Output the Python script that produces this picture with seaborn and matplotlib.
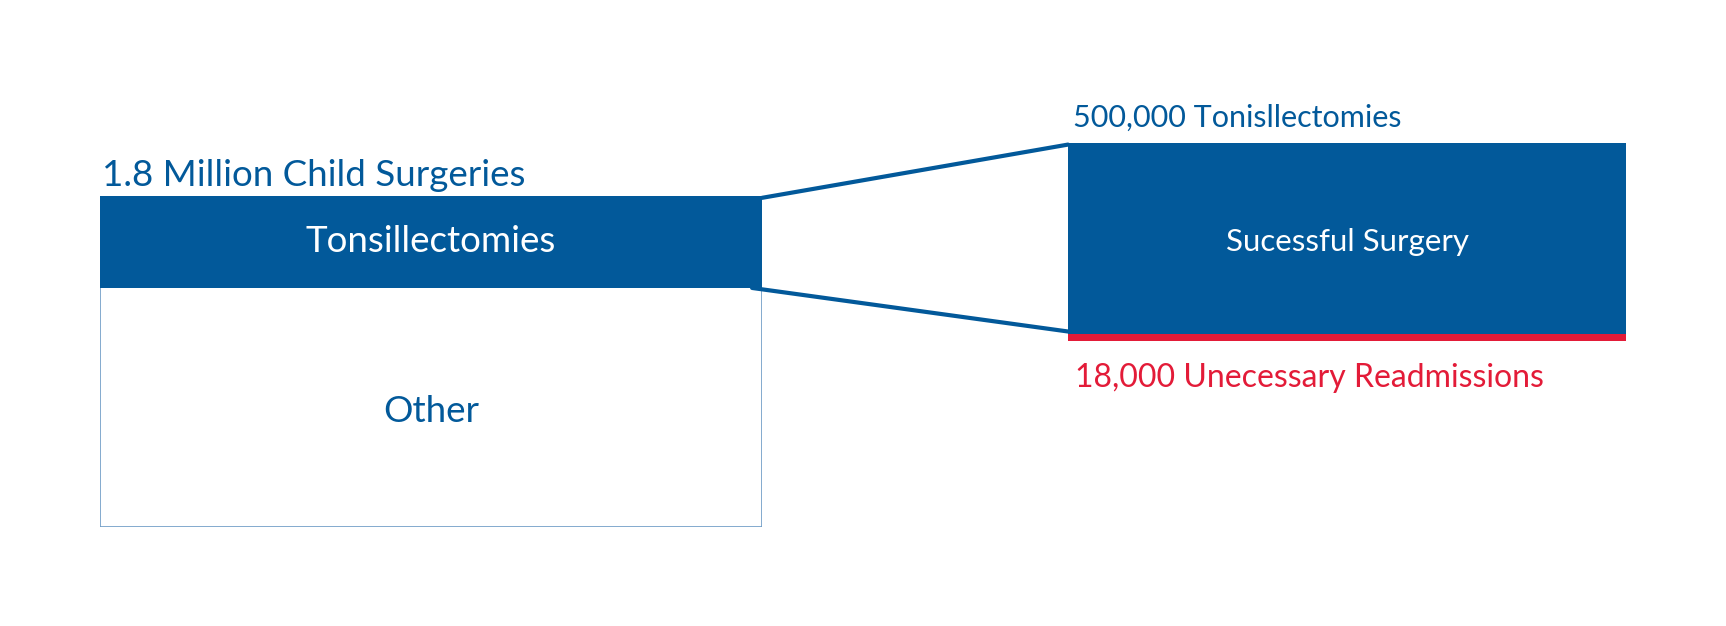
import pandas as pd
import matplotlib.pyplot as plt
import seaborn as sns
from matplotlib.patches import ConnectionPatch

# values (millions of surgeries)
total_surgeries = 1.8
tonsil_surgeries = 0.5
readmissions = 0.018

left_labels = ["Tonsillectomies", "Other"]
left_title = "1.8 Million Child Surgeries"
right_title = "500,000 Tonisllectomies"
right_label = "Sucessful Surgery"
red_label = "18,000 Unecessary Readmissions"

BLUE = "#02599a"
RED = "#e31b38"
EDGE = "#6e9cc6"

sns.set_theme(style="white")
plt.rcParams['font.family'] = ['Lato', 'DejaVu Sans']

W, H = 1726, 626
fig = plt.figure(figsize=(W / 100, H / 100), dpi=100)

# left stacked bar: all child surgeries
ax1 = fig.add_axes([100 / W, (H - 527) / H, 662 / W, 331 / H])
df_left = pd.DataFrame({"group": ["all"], "count": [total_surgeries]})
sns.barplot(data=df_left, x="group", y="count", ax=ax1, width=1.0,
            color="white", edgecolor=EDGE, linewidth=1.2, saturation=1)
ax1.bar(0, tonsil_surgeries, bottom=total_surgeries - tonsil_surgeries,
        width=1.0, color=BLUE, linewidth=0)
ax1.set_xlim(-0.5, 0.5)
ax1.set_ylim(0, total_surgeries)
ax1.text(0, total_surgeries - tonsil_surgeries / 2, left_labels[0],
         ha='center', va='center', color='white', fontsize=26.5)
ax1.text(0, (total_surgeries - tonsil_surgeries) / 2 - 0.02, left_labels[1],
         ha='center', va='center', color=BLUE, fontsize=26.5)
ax1.annotate(left_title, xy=(0, 1), xycoords='axes fraction',
             xytext=(1.5, 3), textcoords='offset points',
             ha='left', va='bottom', color=BLUE, fontsize=26.5)

# right stacked bar: tonsillectomies outcome
ax2 = fig.add_axes([1068 / W, (H - 341) / H, 558 / W, 198 / H])
df_right = pd.DataFrame({"group": ["tonsil"], "count": [tonsil_surgeries]})
sns.barplot(data=df_right, x="group", y="count", ax=ax2, width=1.0,
            color=BLUE, linewidth=0, saturation=1)
ax2.bar(0, readmissions, width=1.0, color=RED, linewidth=0)
ax2.set_xlim(-0.5, 0.5)
ax2.set_ylim(0, tonsil_surgeries)
ax2.text(0, (tonsil_surgeries + readmissions) / 2 - 0.008, right_label,
         ha='center', va='center', color='white', fontsize=22.5)
ax2.annotate(right_title, xy=(0, 1), xycoords='axes fraction',
             xytext=(3.5, 8), textcoords='offset points',
             ha='left', va='bottom', color=BLUE, fontsize=22)
ax2.annotate(red_label, xy=(0, 0), xycoords='axes fraction',
             xytext=(5, -16), textcoords='offset points',
             ha='left', va='top', color=RED, fontsize=23)

for ax in (ax1, ax2):
    ax.set_axis_off()

# connector lines between the tonsillectomy slice and the zoomed bar
for x_left, y_left, y_right in [(0.5, total_surgeries - 0.01, tonsil_surgeries - 0.004),
                                (0.485, total_surgeries - tonsil_surgeries, readmissions + 0.006)]:
    con = ConnectionPatch(xyA=(x_left, y_left), coordsA=ax1.transData,
                          xyB=(-0.5, y_right), coordsB=ax2.transData,
                          color=BLUE, linewidth=3)
    fig.add_artist(con)

fig.savefig("out.png", dpi=100, facecolor="white")
